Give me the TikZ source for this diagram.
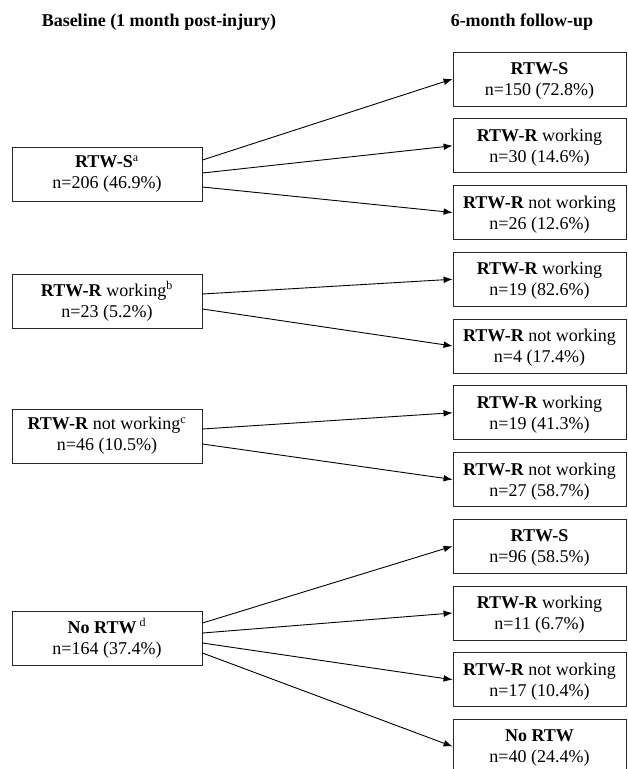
\documentclass[tikz,border=0pt]{standalone}
\usepackage{fontspec}
\setmainfont{Liberation Serif}
\usetikzlibrary{positioning,arrows.meta,calc}

\begin{document}
\begin{tikzpicture}[x=0.6667pt, y=-0.6667pt, node distance=7.9pt, >={Latex[length=6pt,width=4.5pt]}]
% Definition of blocks:
\tikzset{%
  base/.style   = {draw=black!85, line width=0.6pt, rectangle, align=center, font=\fontsize{12}{14}\selectfont, minimum width=126.7pt, minimum height=36pt, inner sep=1pt}, % baseline status
  follow/.style = {draw=black!85, line width=0.6pt, rectangle, align=center, font=\fontsize{12}{14}\selectfont, text depth=0pt, minimum width=115.3pt, minimum height=36pt, inner sep=1pt}, % 6-month status
  head/.style   = {font=\fontsize{12}{14}\selectfont\bfseries}, % column heading
  link/.style   = {->, line width=0.6pt}
}
\useasboundingbox (0,0) rectangle (628,769);
\draw
	node [head] (hbase) at (159,22) {Baseline (1 month post-injury)}
	node [head] (hfollow) at (522,22) {6-month follow-up}
	node [base] (A) at (107,174) {\textbf{RTW-S}\textsuperscript{a}\\n=206 (46.9\%)}
	node [base] (B) at (107,301) {\textbf{RTW-R} working\textsuperscript{b}\\n=23 (5.2\%)}
	node [base] (C) at (107,436) {\textbf{RTW-R} not working\textsuperscript{c}\\n=46 (10.5\%)}
	node [base] (D) at (107,638) {\textbf{No RTW}\,\textsuperscript{d}\\n=164 (37.4\%)}
	node [follow] (f1) at (539.5,79) {\textbf{RTW-S}\\n=150 (72.8\%)}
	node [follow, below = of f1] (f2) {\textbf{RTW-R} working\\n=30 (14.6\%)}
	node [follow, below = of f2] (f3) {\textbf{RTW-R} not working\\n=26 (12.6\%)}
	node [follow, below = of f3] (f4) {\textbf{RTW-R} working\\n=19 (82.6\%)}
	node [follow, below = of f4] (f5) {\textbf{RTW-R} not working\\n=4 (17.4\%)}
	node [follow, below = of f5] (f6) {\textbf{RTW-R} working\\n=19 (41.3\%)}
	node [follow, below = of f6] (f7) {\textbf{RTW-R} not working\\n=27 (58.7\%)}
	node [follow, below = of f7] (f8) {\textbf{RTW-S}\\n=96 (58.5\%)}
	node [follow, below = of f8] (f9) {\textbf{RTW-R} working\\n=11 (6.7\%)}
	node [follow, below = of f9] (f10) {\textbf{RTW-R} not working\\n=17 (10.4\%)}
	node [follow, below = of f10] (f11) {\textbf{No RTW}\\n=40 (24.4\%)};

	\draw[link] ($(A.east)+(0,-14)$) -- (f1.west);
	\draw[link] ($(A.east)+(0,-1)$) -- (f2.west);
	\draw[link] ($(A.east)+(0,13)$) -- (f3.west);
	\draw[link] ($(B.east)+(0,-7)$) -- (f4.west);
	\draw[link] ($(B.east)+(0,8)$) -- (f5.west);
	\draw[link] ($(C.east)+(0,-7)$) -- (f6.west);
	\draw[link] ($(C.east)+(0,8)$) -- (f7.west);
	\draw[link] ($(D.east)+(0,-15)$) -- (f8.west);
	\draw[link] ($(D.east)+(0,-5)$) -- (f9.west);
	\draw[link] ($(D.east)+(0,5)$) -- (f10.west);
	\draw[link] ($(D.east)+(0,15)$) -- (f11.west);
	%
\end{tikzpicture}
\end{document}
